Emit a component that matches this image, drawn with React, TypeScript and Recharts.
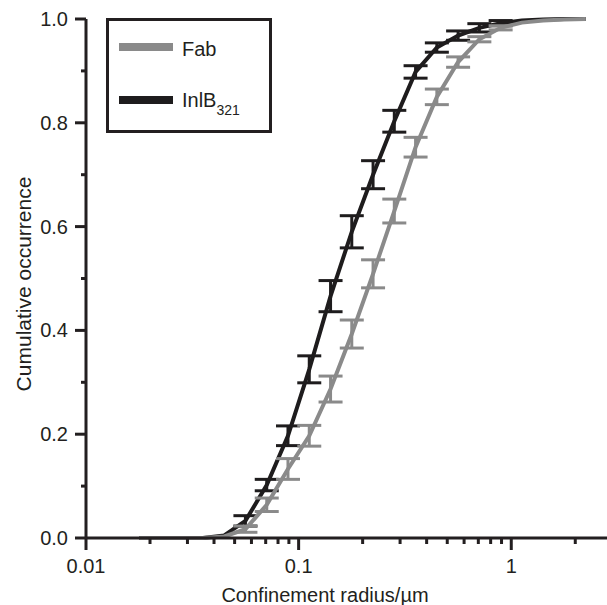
import React from "react";
import { LineChart, Line, XAxis, YAxis, ErrorBar, Legend, Label } from "recharts";

// Bin centres (confinement radius, µm)
const radius = [0.0178, 0.0224, 0.0282, 0.0355, 0.0447, 0.0562, 0.0708, 0.0891, 0.1122, 0.1413, 0.1778, 0.2239, 0.2818, 0.3548, 0.4467, 0.5623, 0.7079, 0.8913, 1.122, 1.413, 1.778, 2.239];
// Fab cumulative occurrence and error
const fab = [0, 0, 0, 0, 0.003, 0.017, 0.064, 0.133, 0.197, 0.287, 0.393, 0.509, 0.63, 0.753, 0.85, 0.917, 0.961, 0.983, 0.993, 0.997, 0.999, 1.0];
const fabErr = [0, 0, 0, 0, 0, 0.006, 0.013, 0.02, 0.02, 0.025, 0.027, 0.027, 0.023, 0.019, 0.015, 0.01, 0.005, 0.004, 0, 0, 0, 0];
// InlB321 cumulative occurrence and error
const inlb = [0, 0, 0, 0, 0.005, 0.033, 0.102, 0.197, 0.325, 0.466, 0.59, 0.7, 0.803, 0.898, 0.945, 0.968, 0.983, 0.992, 0.997, 0.999, 1.0, 1.0];
const inlbErr = [0, 0, 0, 0, 0, 0.01, 0.011, 0.019, 0.026, 0.03, 0.031, 0.027, 0.021, 0.012, 0.009, 0.009, 0.008, 0.005, 0, 0, 0, 0];

const xMajorTicks = [0.01, 0.1, 1];
const xMajorLabels = ["0.01", "0.1", "1"];
const xTicks = [0.01, 0.02, 0.03, 0.04, 0.05, 0.06, 0.07, 0.08, 0.09, 0.1, 0.2, 0.3, 0.4, 0.5, 0.6, 0.7, 0.8, 0.9, 1, 2];
const yTicks = [0, 0.1, 0.2, 0.3, 0.4, 0.5, 0.6, 0.7, 0.8, 0.9, 1.0];
const yMajorTicks = [0, 0.2, 0.4, 0.6, 0.8, 1.0];
const yMajorLabels = ["0.0", "0.2", "0.4", "0.6", "0.8", "1.0"];

const data = radius.map((r, i) => ({
  r,
  fab: fab[i],
  fabErr: fabErr[i],
  inlb: inlb[i],
  inlbErr: inlbErr[i],
}));

const AXIS = "#231f20";
const GRAY = "#8a8a8a";
const BLACK = "#1e1c1d";
const FONT = "'Liberation Sans', Arial, sans-serif";

const XTick = (props: any) => {
  const { x, y, payload } = props;
  const idx = xMajorTicks.indexOf(payload.value);
  const major = idx >= 0;
  return (
    <g>
      <line x1={x} x2={x} y1={y} y2={y + (major ? 12 : 6)} stroke={AXIS} strokeWidth={3} />
      {major && (
        <text x={x} y={y + 35} textAnchor="middle" fontSize={20} fontFamily={FONT} fill={AXIS}>
          {xMajorLabels[idx]}
        </text>
      )}
    </g>
  );
};

const YTick = (props: any) => {
  const { x, y, payload } = props;
  const idx = yMajorTicks.findIndex((v) => Math.abs(v - payload.value) < 1e-9);
  const major = idx >= 0;
  return (
    <g>
      <line x1={x - (major ? 11 : 5)} x2={x} y1={y} y2={y} stroke={AXIS} strokeWidth={3} />
      {major && (
        <text x={x - 18} y={y + 7} textAnchor="end" fontSize={20} fontFamily={FONT} fill={AXIS}>
          {yMajorLabels[idx]}
        </text>
      )}
    </g>
  );
};

const LegendBox = () => (
  <svg width={166} height={115} style={{ display: "block" }}>
    <rect x={1.5} y={1.5} width={163} height={112} fill="#fff" stroke={AXIS} strokeWidth={3} />
    <line x1={13} x2={67} y1={29} y2={29} stroke={GRAY} strokeWidth={8} />
    <text x={76} y={38} fontSize={20} fontFamily={FONT} fill={AXIS}>Fab</text>
    <line x1={13} x2={67} y1={82} y2={82} stroke={BLACK} strokeWidth={8} />
    <text x={76} y={89} fontSize={20} fontFamily={FONT} fill={AXIS}>
      InlB
      <tspan fontSize={14} dy={8}>321</tspan>
    </text>
  </svg>
);

export default function App() {
  return (
    <div style={{ position: "absolute", left: 0, top: 0, width: 607, height: 605, background: "#fff" }}>
      <LineChart width={607} height={605} data={data} margin={{ top: 19, right: 0, bottom: 0, left: 0 }}>
        <XAxis
          dataKey="r"
          type="number"
          scale="log"
          domain={[0.01, 2.82]}
          ticks={xTicks}
          interval={0}
          tickSize={0}
          tickMargin={0}
          tick={<XTick />}
          axisLine={{ stroke: AXIS, strokeWidth: 3 }}
          height={67}
        >
          <Label
            content={(p: any) => (
              <text x={325} y={602} textAnchor="middle" fontSize={20} fontFamily={FONT} fill={AXIS}>
                Confinement radius/µm
              </text>
            )}
          />
        </XAxis>
        <YAxis
          type="number"
          domain={[0, 1]}
          ticks={yTicks}
          interval={0}
          tickSize={0}
          tickMargin={0}
          tick={<YTick />}
          axisLine={{ stroke: AXIS, strokeWidth: 3 }}
          width={86}
        >
          <Label
            content={() => (
              <text
                x={31}
                y={284}
                transform="rotate(-90 31 284)"
                textAnchor="middle"
                fontSize={21}
                fontFamily={FONT}
                fill={AXIS}
              >
                Cumulative occurrence
              </text>
            )}
          />
        </YAxis>
        <Legend
          layout="horizontal"
          verticalAlign="middle"
          align="center"
          wrapperStyle={{ left: 106, top: 18, width: 166, height: 115 }}
          content={() => <LegendBox />}
        />
        <Line
          dataKey="inlb"
          name="InlB321"
          type="linear"
          stroke={BLACK}
          strokeWidth={4}
          dot={false}
          activeDot={false}
          isAnimationActive={false}
        >
          <ErrorBar dataKey="inlbErr" direction="y" width={12} strokeWidth={3} stroke={BLACK} isAnimationActive={false} />
        </Line>
        <Line
          dataKey="fab"
          name="Fab"
          type="linear"
          stroke={GRAY}
          strokeWidth={4}
          dot={false}
          activeDot={false}
          isAnimationActive={false}
        >
          <ErrorBar dataKey="fabErr" direction="y" width={12} strokeWidth={3} stroke={GRAY} isAnimationActive={false} />
        </Line>
      </LineChart>
    </div>
  );
}
